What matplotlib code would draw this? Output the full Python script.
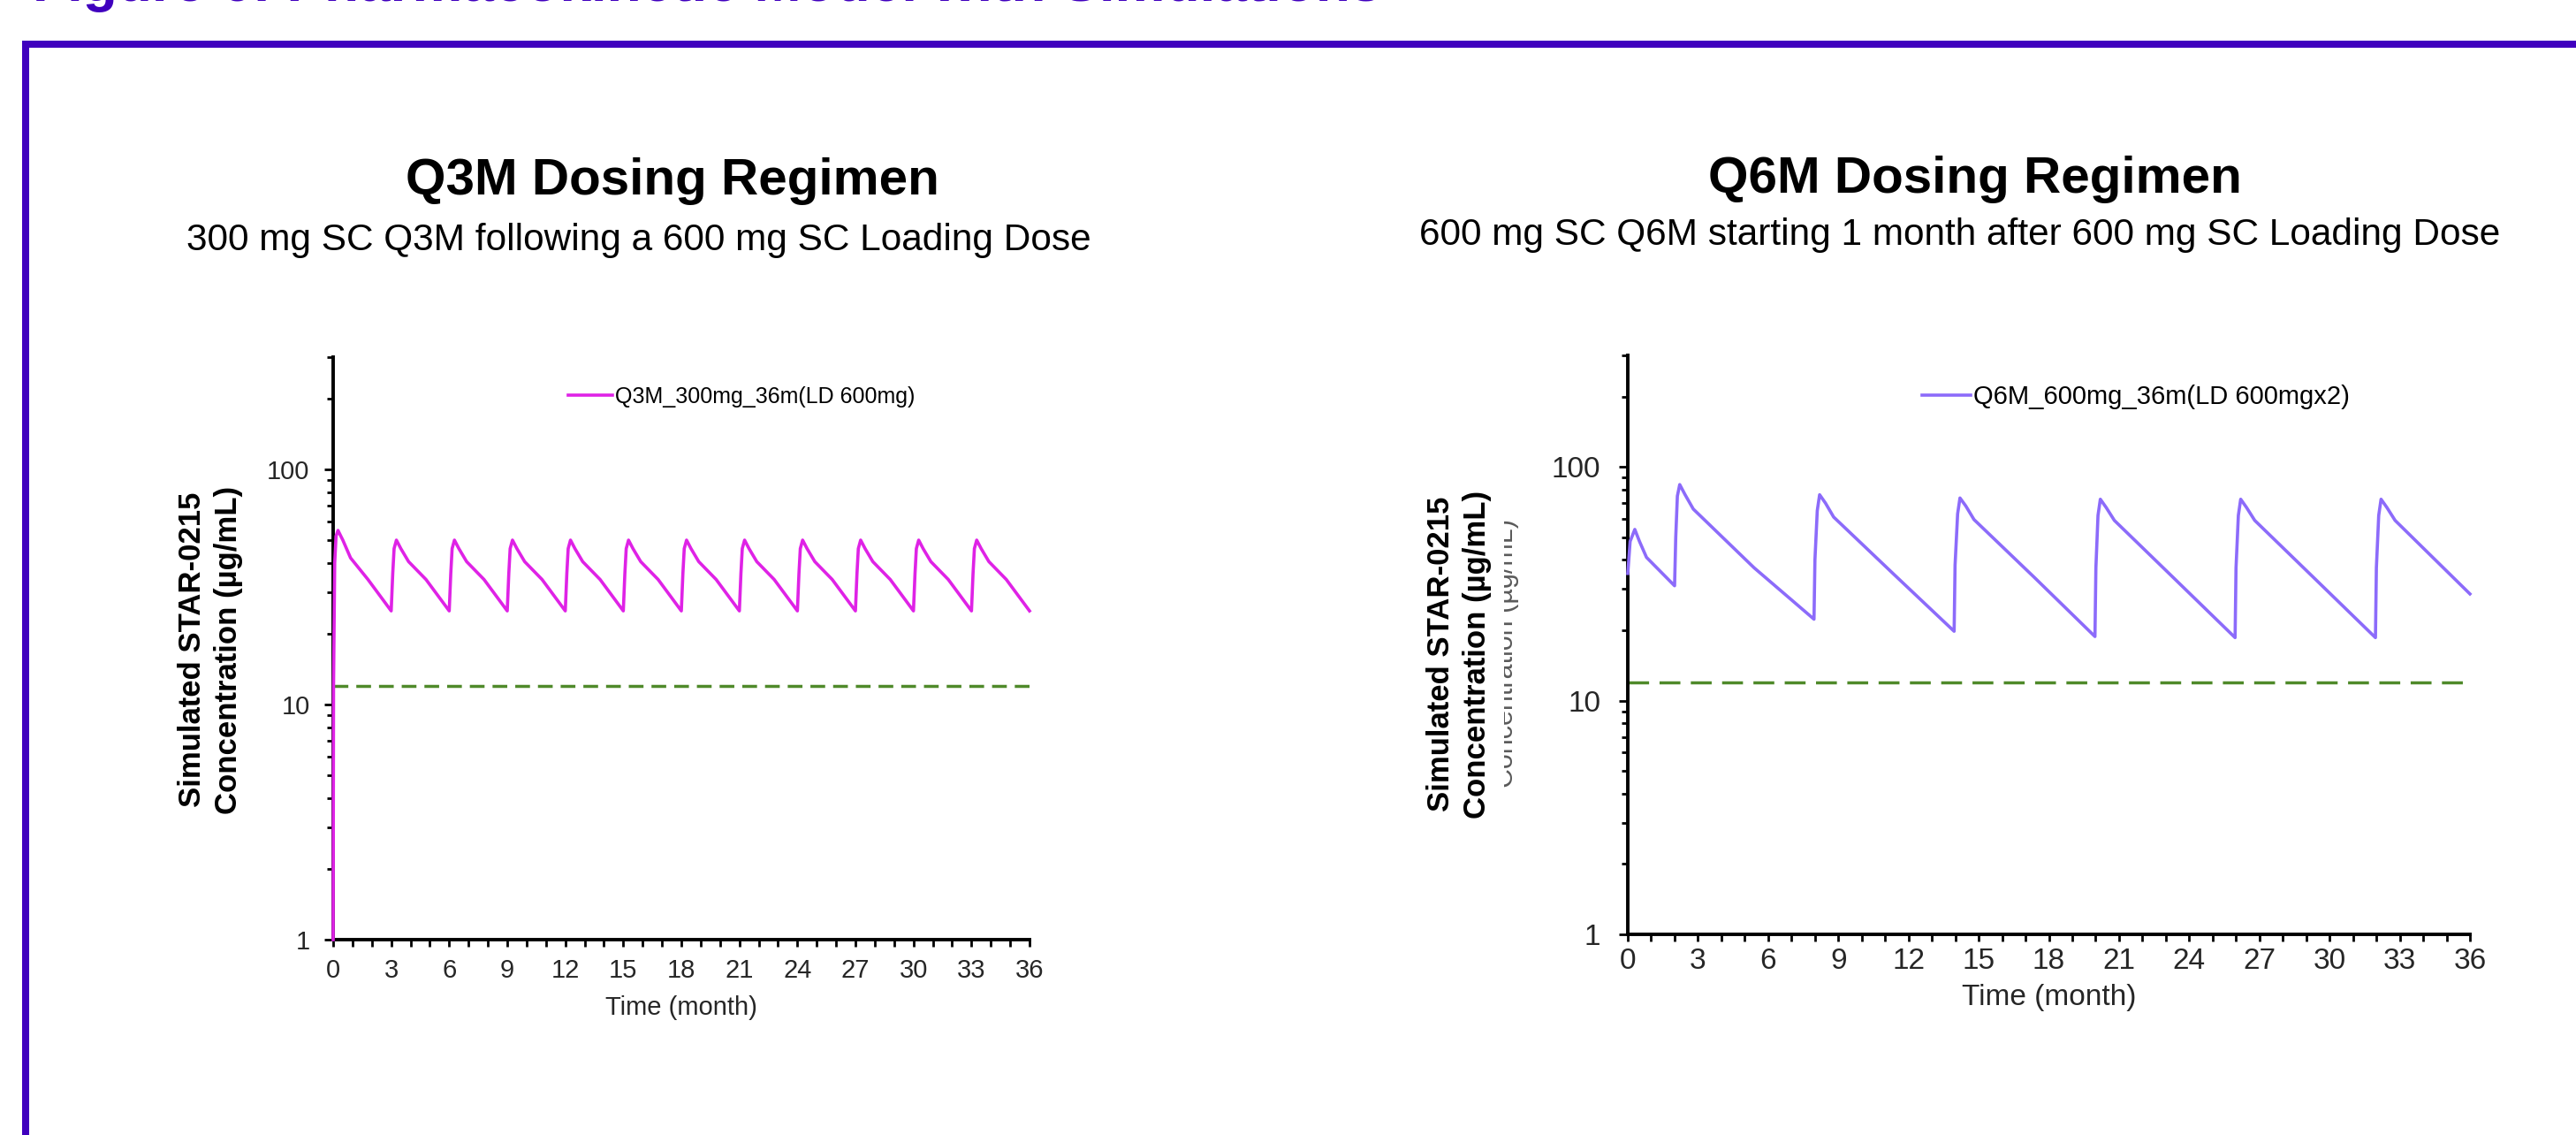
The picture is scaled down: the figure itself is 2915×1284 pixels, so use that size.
import matplotlib
matplotlib.use("Agg")
import matplotlib.pyplot as plt
from matplotlib.patches import Rectangle
from matplotlib.ticker import MultipleLocator, LogLocator, FuncFormatter, NullFormatter
from matplotlib.transforms import Bbox, TransformedBbox

plt.rcParams['font.family'] = ['Liberation Sans', 'DejaVu Sans']

# ---- data ----
q3m_time = [0, 0.02, 0.08, 0.15, 0.25, 0.5, 0.9, 1.8,
            3.0, 3.08, 3.15, 3.27, 3.5, 3.9, 4.8,
            6.0, 6.08, 6.15, 6.27, 6.5, 6.9, 7.8,
            9.0, 9.08, 9.15, 9.27, 9.5, 9.9, 10.8,
            12.0, 12.08, 12.15, 12.27, 12.5, 12.9, 13.8,
            15.0, 15.08, 15.15, 15.27, 15.5, 15.9, 16.8,
            18.0, 18.08, 18.15, 18.27, 18.5, 18.9, 19.8,
            21.0, 21.08, 21.15, 21.27, 21.5, 21.9, 22.8,
            24.0, 24.08, 24.15, 24.27, 24.5, 24.9, 25.8,
            27.0, 27.08, 27.15, 27.27, 27.5, 27.9, 28.8,
            30.0, 30.08, 30.15, 30.27, 30.5, 30.9, 31.8,
            33.0, 33.08, 33.15, 33.27, 33.5, 33.9, 34.8,
            36.0]
q3m_conc = [1, 12, 40, 52, 55, 50, 42, 34,
            25, 36, 46, 50, 46, 40.5, 34,
            25, 36, 46, 50, 46, 40.5, 34,
            25, 36, 46, 50, 46, 40.5, 34,
            25, 36, 46, 50, 46, 40.5, 34,
            25, 36, 46, 50, 46, 40.5, 34,
            25, 36, 46, 50, 46, 40.5, 34,
            25, 36, 46, 50, 46, 40.5, 34,
            25, 36, 46, 50, 46, 40.5, 34,
            25, 36, 46, 50, 46, 40.5, 34,
            25, 36, 46, 50, 46, 40.5, 34,
            25, 36, 46, 50, 46, 40.5, 34,
            25]

q6m_time = [0, 0.1, 0.3, 0.5, 0.8, 2.0,
            2.05, 2.12, 2.22, 2.45, 2.8, 5.4, 7.96,
            8.0, 8.1, 8.2, 8.45, 8.8, 11.4, 13.95,
            13.99, 14.1, 14.2, 14.45, 14.8, 17.4, 19.97,
            20.01, 20.1, 20.2, 20.45, 20.8, 23.4, 25.96,
            26.0, 26.1, 26.2, 26.45, 26.8, 29.4, 31.96,
            32.0, 32.1, 32.2, 32.45, 32.8, 36.0]
q6m_conc = [35, 48, 54, 48, 41, 31,
            50, 75, 84, 76, 66, 37, 22.3,
            40, 65, 76, 70, 61, 34.5, 19.8,
            38, 63, 73.6, 68, 59.5, 33.5, 18.8,
            37, 62, 72.7, 67, 59, 33, 18.6,
            37, 62, 72.7, 67, 59, 33, 18.6,
            37, 62, 72.7, 67, 59, 28.6]

threshold = 12
x_span = [0, 36]

titles = ["Q3M Dosing Regimen", "Q6M Dosing Regimen"]
subtitles = ["300 mg SC Q3M following a 600 mg SC Loading Dose",
             "600 mg SC Q6M starting 1 month after 600 mg SC Loading Dose"]
labels = ["Q3M_300mg_36m(LD 600mg)", "Q6M_600mg_36m(LD 600mgx2)"]
ylab = "Simulated STAR-0215\nConcentration (\u00b5g/mL)"

purple = '#4000BE'
magenta = '#DF22E6'
lavender = '#8C6BFA'
green = '#4F8A2A'
tick_col = '#262626'

W, H = 2915, 1284
fig = plt.figure(figsize=(W / 100, H / 100), dpi=100)


def fx(px):
    return px / W


def fy(py):
    return 1 - py / H


# frame lines of the slide
fig.add_artist(Rectangle((fx(25), fy(54)), 1 - fx(25), 8 / H, transform=fig.transFigure,
                         color=purple, lw=0))
fig.add_artist(Rectangle((fx(25), 0), 8 / W, fy(46), transform=fig.transFigure,
                         color=purple, lw=0))
fig.text(fx(37), fy(0.8), "Figure 6: Pharmacokinetic Model with Simulations", color=purple,
         fontsize=46, fontweight='bold', ha='left', va='baseline')

# panel settings: axes box, fonts, dash pattern
panels = [
    dict(box=(377, 404, 1165, 1063), t=q3m_time, c=q3m_conc, col=magenta, tick=21, leg=18,
         leg_x=643, leg_hl=2.0, dash=(4.8, 2.6), ypad=12, xpad=9,
         title_x=761, title_y=220, sub_x=723, sub_y=283, ylab_x=238, ylab_y=735,
         xlab_y=1140),
    dict(box=(1842, 402, 2795, 1057), t=q6m_time, c=q6m_conc, col=lavender, tick=24, leg=21,
         leg_x=2175, leg_hl=1.9, dash=(6.8, 3.4), ypad=15, xpad=5,
         title_x=2235, title_y=218, sub_x=2218, sub_y=277, ylab_x=1651, ylab_y=740,
         xlab_y=1129),
]

for i, p in enumerate(panels):
    x0, y0, x1, y1 = p['box']
    ax = fig.add_axes([fx(x0), fy(y1), fx(x1) - fx(x0), fy(y0) - fy(y1)])
    ax.set_yscale('log')
    ax.set_xlim(0, 36)
    ax.set_ylim(1, 300)

    ax.plot(x_span, [threshold, threshold], color=green, lw=2.5, linestyle=(0, p['dash']),
            zorder=2)
    ax.plot(p['t'], p['c'], color=p['col'], lw=2.6, label=labels[i], clip_on=False, zorder=4)

    for s in ['top', 'right']:
        ax.spines[s].set_visible(False)
    for s in ['left', 'bottom']:
        ax.spines[s].set_linewidth(2.8)
        ax.spines[s].set_color('black')

    ax.xaxis.set_major_locator(MultipleLocator(3))
    ax.xaxis.set_minor_locator(MultipleLocator(1))
    ax.yaxis.set_major_locator(LogLocator(base=10, numticks=10))
    ax.yaxis.set_minor_locator(LogLocator(base=10, subs=range(2, 10), numticks=10))
    ax.yaxis.set_major_formatter(FuncFormatter(lambda v, pos: f"{v:g}"))
    ax.yaxis.set_minor_formatter(NullFormatter())

    ax.tick_params(axis='x', which='both', direction='out', length=6, width=2,
                   labelsize=p['tick'], labelcolor=tick_col, pad=p['xpad'])
    ax.tick_params(axis='y', which='major', direction='out', length=7, width=2,
                   labelsize=p['tick'], labelcolor=tick_col, pad=p['ypad'])
    ax.tick_params(axis='y', which='minor', direction='out', length=5, width=2)

    ax.legend(loc='center left', bbox_to_anchor=(fx(p['leg_x']), fy(449)),
              bbox_transform=fig.transFigure, frameon=False, fontsize=p['leg'],
              handlelength=p['leg_hl'], handletextpad=0.1, borderpad=0, borderaxespad=0)

    fig.text(fx(p['title_x']), fy(p['title_y']), titles[i], fontsize=42, fontweight='bold',
             ha='center', va='baseline')
    fig.text(fx(p['sub_x']), fy(p['sub_y']), subtitles[i], fontsize=30.5,
             ha='center', va='baseline')
    fig.text(fx(p['ylab_x']), fy(p['ylab_y']), ylab, fontsize=25, fontweight='bold',
             rotation=90, ha='center', va='center', multialignment='center', linespacing=1.3)
    fig.text(fx((x0 + x1) / 2), fy(p['xlab_y']), "Time (month)", fontsize=p['tick'],
             color=tick_col, ha='center', va='center')

# leftover, half-hidden copy of the axis label on the right panel
ghost = fig.text(fx(1719), fy(739), "Concentration (\u00b5g/mL)", fontsize=22, color='#5a5a5a',
                 rotation=90, ha='right', va='center')
ghost.set_clip_box(TransformedBbox(Bbox.from_extents(fx(1702), 0, fx(1760), 1), fig.transFigure))
ghost.set_clip_on(True)

fig.savefig("out.png", dpi=100)
